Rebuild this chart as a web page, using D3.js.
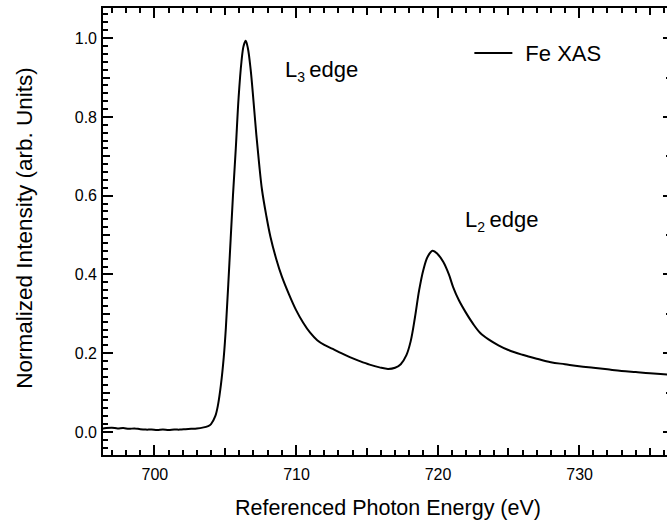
<!DOCTYPE html>
<html>
<head>
<meta charset="utf-8">
<script src="https://cdn.jsdelivr.net/npm/d3@7"></script>
<style>
  body { margin: 0; background: #fff; }
  svg { display: block; }
  text { font-family: "Liberation Sans", Arial, Helvetica, sans-serif; fill: #000; }
</style>
</head>
<body>
<svg id="chart" width="667" height="521"></svg>
<script>
// Fe L-edge X-ray absorption spectrum (normalized)
const energy = [
  696.3, 696.6, 697.0, 697.4, 697.8, 698.2, 698.6, 699.0, 699.4, 699.8,
  700.2, 700.6, 701.0, 701.4, 701.8, 702.2, 702.6, 703.0, 703.4, 703.8,
  704.0, 704.3, 704.5, 704.7, 704.9, 705.05, 705.3, 705.55, 705.75, 705.95,
  706.15, 706.3, 706.45, 706.6, 706.8, 707.0, 707.2, 707.4, 707.6, 707.9,
  708.2, 708.6, 709.0, 709.5, 710.0, 710.5, 711.0, 711.5, 712.0, 712.6,
  713.2, 713.8, 714.5, 715.2, 715.9, 716.5, 717.0, 717.4, 717.8, 718.1,
  718.4, 718.7, 719.0, 719.3, 719.65, 720.0, 720.4, 720.8, 721.1, 721.5,
  722.0, 722.5, 723.0, 723.6, 724.3, 725.0, 726.0, 727.0, 728.0, 729.0,
  730.0, 731.0, 732.0, 733.0, 734.0, 735.0, 736.7
];
const intensity = [
  0.008, 0.010, 0.011, 0.009, 0.010, 0.008, 0.009, 0.007, 0.006, 0.006,
  0.005, 0.006, 0.005, 0.006, 0.006, 0.007, 0.008, 0.009, 0.011, 0.015,
  0.020, 0.040, 0.070, 0.120, 0.190, 0.265, 0.430, 0.600, 0.720, 0.850,
  0.940, 0.980, 0.993, 0.975, 0.920, 0.840, 0.755, 0.680, 0.615, 0.550,
  0.495, 0.440, 0.395, 0.350, 0.310, 0.278, 0.252, 0.233, 0.221, 0.211,
  0.200, 0.190, 0.180, 0.171, 0.164, 0.160, 0.163, 0.172, 0.195, 0.230,
  0.290, 0.360, 0.412, 0.445, 0.460, 0.452, 0.432, 0.400, 0.368, 0.335,
  0.303, 0.275, 0.252, 0.235, 0.220, 0.208, 0.196, 0.186, 0.177, 0.172,
  0.167, 0.163, 0.159, 0.155, 0.152, 0.149, 0.145
];
const xTickLabels = [700, 710, 720, 730];
const yTickLabels = [0.0, 0.2, 0.4, 0.6, 0.8, 1.0];
const seriesName = "Fe XAS";
const edgeNames = ["L", "L"];
const edgeSubscripts = ["3", "2"];
const xTitle = "Referenced Photon Energy (eV)";
const yTitle = "Normalized Intensity (arb. Units)";

const svg = d3.select("#chart");
const margin = { left: 102, top: 7, right: -7, bottom: 65 };
const W = 667 - margin.left - margin.right;
const H = 521 - margin.top - margin.bottom;

const x = d3.scaleLinear().domain([696.3, 736.7]).range([0, W]);
const y = d3.scaleLinear().domain([-0.061, 1.079]).range([H, 0]);

const g = svg.append("g").attr("transform", `translate(${margin.left},${margin.top})`);

// tick value sets: minor / medium / major
const xMinor = d3.range(697, 737, 1);
const xMedium = d3.range(700, 737, 5);
const yMinor = d3.range(-3, 54, 1).map(k => +(k * 0.02).toFixed(2));
const yMedium = d3.range(0, 11, 1).map(k => +(k * 0.1).toFixed(1));

// inward-pointing tick marks on all four sides (pixel-snapped)
const tickData = [];
[[xMinor, 6], [xMedium, 8], [xTickLabels, 11]].forEach(([vals, len]) => vals.forEach(v => {
  const px = Math.round(x(v));
  tickData.push({ x1: px, y1: H, x2: px, y2: H - len });
  tickData.push({ x1: px, y1: 0, x2: px, y2: len });
}));
[[yMinor, 6], [yMedium, 8], [yTickLabels, 11]].forEach(([vals, len]) => vals.forEach(v => {
  const py = Math.round(y(v));
  tickData.push({ x1: 0, y1: py, x2: len, y2: py });
  tickData.push({ x1: W, y1: py, x2: W - len, y2: py });
}));
g.append("g").attr("class", "ticks")
  .selectAll("line").data(tickData).join("line")
  .attr("x1", d => d.x1).attr("y1", d => d.y1)
  .attr("x2", d => d.x2).attr("y2", d => d.y2)
  .style("stroke", "#000").style("stroke-width", "2px")
  .attr("shape-rendering", "crispEdges");

// frame
g.append("rect").attr("x", 0).attr("y", 0).attr("width", W).attr("height", H)
  .attr("fill", "none").attr("stroke", "#000").attr("stroke-width", 2)
  .attr("shape-rendering", "crispEdges");

// tick labels via d3 axes (labels only)
const xAxis = g.append("g").attr("transform", `translate(0,${H})`)
  .call(d3.axisBottom(x).tickValues(xTickLabels).tickSize(0).tickPadding(13).tickFormat(d3.format("d")));
const yAxis = g.append("g")
  .call(d3.axisLeft(y).tickValues(yTickLabels).tickSize(0).tickPadding(5).tickFormat(d3.format(".1f")));
[xAxis, yAxis].forEach(a => {
  a.select(".domain").remove();
  a.selectAll(".tick line").remove();
  a.selectAll(".tick text").attr("fill", "#000").style("font-size", "16px")
    .style("font-family", '"Liberation Sans", Arial, sans-serif');
});

// spectrum
const pts = energy.map((e, i) => [e, intensity[i]]);
const line = d3.line().x(d => x(d[0])).y(d => y(d[1])).curve(d3.curveCatmullRom.alpha(0.5));
g.append("path").datum(pts)
  .attr("fill", "none").attr("stroke", "#000").attr("stroke-width", 2)
  .attr("stroke-linejoin", "round").attr("d", line);

// edge annotations
const edgeAnchors = [[709.22, 0.902], [721.94, 0.521]];
edgeAnchors.forEach((p, i) => {
  const t = g.append("text").attr("x", x(p[0])).attr("y", y(p[1])).style("font-size", "22px");
  t.append("tspan").text(edgeNames[i]);
  t.append("tspan").attr("dy", 5).style("font-size", "14px").text(edgeSubscripts[i]);
  t.append("tspan").attr("dy", -5).text("\u2009edge");
});

// legend
const lg = g.append("g").attr("transform", `translate(${x(722.6)},${y(0.962)})`);
lg.append("line").attr("x1", 0).attr("x2", 38).attr("y1", 0).attr("y2", 0)
  .attr("stroke", "#000").attr("stroke-width", 2);
lg.append("text").attr("x", 51).attr("y", 8).style("font-size", "22px").text(seriesName);

// axis titles
svg.append("text").attr("x", 388).attr("y", 515).attr("text-anchor", "middle")
  .style("font-size", "21.5px").text(xTitle);
svg.append("text").attr("transform", "translate(32,228) rotate(-90)")
  .attr("text-anchor", "middle").style("font-size", "22.5px").text(yTitle);
</script>
</body>
</html>
